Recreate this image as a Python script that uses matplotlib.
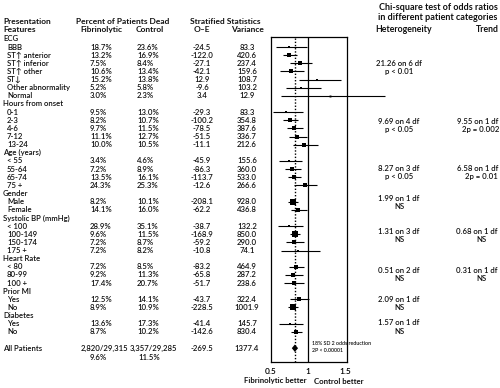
import matplotlib.pyplot as plt
from matplotlib import transforms

plt.rcParams['font.family'] = ['Lato', 'DejaVu Sans']
plt.rcParams['font.weight'] = 600
plt.rcParams['text.color'] = '#111111'

# ---- values ----
group_names = ['ECG', 'Hours from onset', 'Age (years)', 'Gender',
               'Systolic BP (mmHg)', 'Heart Rate', 'Prior MI', 'Diabetes']
row_labels = [
    ['BBB', 'ST\u2191 anterior', 'ST\u2191 inferior', 'ST\u2191 other', 'ST\u2193',
     'Other abnormality', 'Normal'],
    ['0-1', '2-3', '4-6', '7-12', '13-24'],
    ['< 55', '55-64', '65-74', '75 +'],
    ['Male', 'Female'],
    ['< 100', '100-149', '150-174', '175 +'],
    ['< 80', '80-99', '100 +'],
    ['Yes', 'No'],
    ['Yes', 'No'],
]
fib_dead = [[18.7, 13.2, 7.5, 10.6, 15.2, 5.2, 3.0], [9.5, 8.2, 9.7, 11.1, 10.0],
            [3.4, 7.2, 13.5, 24.3], [8.2, 14.1], [28.9, 9.6, 7.2, 7.2],
            [7.2, 9.2, 17.4], [12.5, 8.9], [13.6, 8.7]]
ctl_dead = [[23.6, 16.9, 8.4, 13.4, 13.8, 5.8, 2.3], [13.0, 10.7, 11.5, 12.7, 10.5],
            [4.6, 8.9, 16.1, 25.3], [10.1, 16.0], [35.1, 11.5, 8.7, 8.2],
            [8.5, 11.3, 20.7], [14.1, 10.9], [17.3, 10.2]]
o_minus_e = [[-24.5, -122.0, -27.1, -42.1, 12.9, -9.6, 3.4],
             [-29.3, -100.2, -78.5, -51.5, -11.1],
             [-45.9, -86.3, -113.7, -12.6], [-208.1, -62.2],
             [-38.7, -168.9, -59.2, -10.8], [-83.2, -65.8, -51.7],
             [-43.7, -228.5], [-41.4, -142.6]]
variance = [[83.3, 420.6, 237.4, 159.6, 108.7, 103.2, 12.9],
            [83.3, 354.8, 387.6, 336.7, 212.6],
            [155.6, 360.0, 533.0, 266.6], [928.0, 436.8],
            [132.2, 850.0, 290.0, 74.1], [464.9, 287.2, 238.6],
            [322.4, 1001.9], [145.7, 830.4]]
odds_ratio = [[0.745, 0.748, 0.892, 0.768, 1.126, 0.911, 1.30],
              [0.703, 0.754, 0.817, 0.858, 0.949],
              [0.745, 0.787, 0.808, 0.954], [0.799, 0.867],
              [0.746, 0.820, 0.815, 0.864], [0.836, 0.795, 0.805],
              [0.873, 0.796], [0.753, 0.842]]
ci_low = [[0.562, 0.660, 0.755, 0.626, 0.880, 0.707, 0.635],
          [0.530, 0.658, 0.717, 0.746, 0.795],
          [0.606, 0.687, 0.723, 0.815], [0.734, 0.767],
          [0.597, 0.750, 0.701, 0.641], [0.742, 0.683, 0.681],
          [0.757, 0.734], [0.608, 0.770]]
ci_high = [[0.988, 0.848, 1.054, 0.942, 1.442, 1.174, 2.04],
           [0.933, 0.865, 0.931, 0.987, 1.133],
           [0.915, 0.901, 0.903, 1.117], [0.870, 0.981],
           [0.934, 0.896, 0.949, 1.166], [0.942, 0.926, 0.951],
           [1.008, 0.864], [0.932, 0.921]]
het_stat = ['21.26 on 6 df', '9.69 on 4 df', '8.27 on 3 df', '1.99 on 1 df',
            '1.31 on 3 df', '0.51 on 2 df', '2.09 on 1 df', '1.57 on 1 df']
het_p = ['p < 0.01', 'p < 0.05', 'p < 0.05', 'NS', 'NS', 'NS', 'NS', 'NS']
trend_stat = [None, '9.55 on 1 df', '6.58 on 1 df', None, '0.68 on 1 df',
              '0.31 on 1 df', None, None]
trend_p = [None, '2p = 0.002', '2p = 0.01', None, 'NS', 'NS', None, None]

all_counts = ['2,820/29,315', '3,357/29,285']
all_pct = [9.6, 11.5]
all_oe, all_var = -269.5, 1377.4
all_or, all_lo, all_hi = 0.822, 0.781, 0.866

# ---- layout (pixels of the 500x388 picture) ----
W, H = 500, 388
ROW0, STEP = 47, 8.14
FS = 5.6
het_row = [2.0, 9.1, 14.9, 18.6, 22.7, 27.5, 31.0, 33.9]


def row_of(py):
    return (py - ROW0) / STEP


fig = plt.figure(figsize=(5, 3.88), dpi=100)
ax = fig.add_axes([271 / W, 1 - 362 / H, 76 / W, 325 / H])
ax.set_xlim(0.5, 0.5 + 76 / 74)
ax.set_ylim(row_of(362), row_of(37))
tr = transforms.blended_transform_factory(fig.transFigure, ax.transData)


def put(px, row, s, ha='left', size=FS, **kw):
    ax.text(px / W, row, s, transform=tr, ha=ha, va='center', fontsize=size, **kw)


# column headers
put(3, row_of(21), 'Presentation', weight='bold', size=6)
put(3, row_of(29.5), 'Features', weight='bold', size=6)
put(123, row_of(21), 'Percent of Patients Dead', ha='center', weight='bold', size=6)
put(101, row_of(29.5), 'Fibrinolytic', ha='center', weight='bold', size=6)
put(150, row_of(29.5), 'Control', ha='center', weight='bold', size=6)
put(225, row_of(21), 'Stratified Statistics', ha='center', weight='bold', size=6)
put(202, row_of(29.5), 'O\u2013E', ha='center', weight='bold', size=6)
put(247, row_of(29.5), 'Variance', ha='center', weight='bold', size=6)
put(438, row_of(8), 'Chi-square test of odds ratios', ha='center', weight='bold', size=6.5)
put(438, row_of(17), 'in different patient categories', ha='center', weight='bold', size=6.5)
put(404, row_of(29.5), 'Heterogeneity', ha='center', weight='bold', size=6.3)
put(487, row_of(29.5), 'Trend', ha='center', weight='bold', size=6.3)

r = -1
for g, name in enumerate(group_names):
    put(3, r, name)
    put(399, het_row[g], het_stat[g], ha='center')
    put(399, het_row[g] + 1, het_p[g], ha='center')
    if trend_stat[g]:
        put(498, het_row[g], trend_stat[g], ha='right')
        put(481, het_row[g] + 1, trend_p[g], ha='center')
    r += 1
    for j, lab in enumerate(row_labels[g]):
        put(7, r, lab)
        put(90, r, f'{fib_dead[g][j]:.1f}%')
        put(137, r, f'{ctl_dead[g][j]:.1f}%')
        put(202, r, f'{o_minus_e[g][j]:.1f}', ha='center')
        put(247, r, f'{variance[g][j]:.1f}', ha='center')
        ax.hlines(r, ci_low[g][j], ci_high[g][j], color='k', lw=0.8, clip_on=False)
        side = (1.5 + 3.8 * (variance[g][j] / 1000) ** 0.5) * 72 / 100
        ax.plot(odds_ratio[g][j], r, 's', color='k', ms=side, mew=0)
        r += 1

r += 1
put(3, r, 'All Patients')
put(104, r, all_counts[0], ha='center')
put(153, r, all_counts[1], ha='center')
put(90, r + 1.1, f'{all_pct[0]:.1f}%')
put(138, r + 1.1, f'{all_pct[1]:.1f}%')
put(202, r, f'{all_oe:.1f}', ha='center')
put(247, r, f'{all_var:.1f}', ha='center')
ax.fill([all_lo, all_or, all_hi, all_or], [r, r - 0.45, r, r + 0.45], color='k', lw=0)
put(312, r - 0.55, '18% SD 2 odds reduction', size=3.8)
put(312, r + 0.25, '2P < 0.00001', size=3.8)

ax.axvline(1.0, color='k', lw=0.9)
ax.axvline(all_or, color='k', lw=1.0, ls=(0, (1, 1.3)))
for sp in ax.spines.values():
    sp.set_linewidth(0.9)
ax.set_yticks([])
ax.set_xticks([0.5, 1, 1.5])
ax.set_xticklabels(['0.5', '1', '1.5'], fontsize=6)
ax.tick_params(axis='x', length=0, pad=4)

fig.text(307 / W, 1 - 381 / H, 'Fibrinolytic better', ha='right', va='center',
         fontsize=FS, weight='bold')
fig.text(314 / W, 1 - 381 / H, 'Control better', ha='left', va='center',
         fontsize=FS, weight='bold')

fig.savefig('out.png', dpi=100)
